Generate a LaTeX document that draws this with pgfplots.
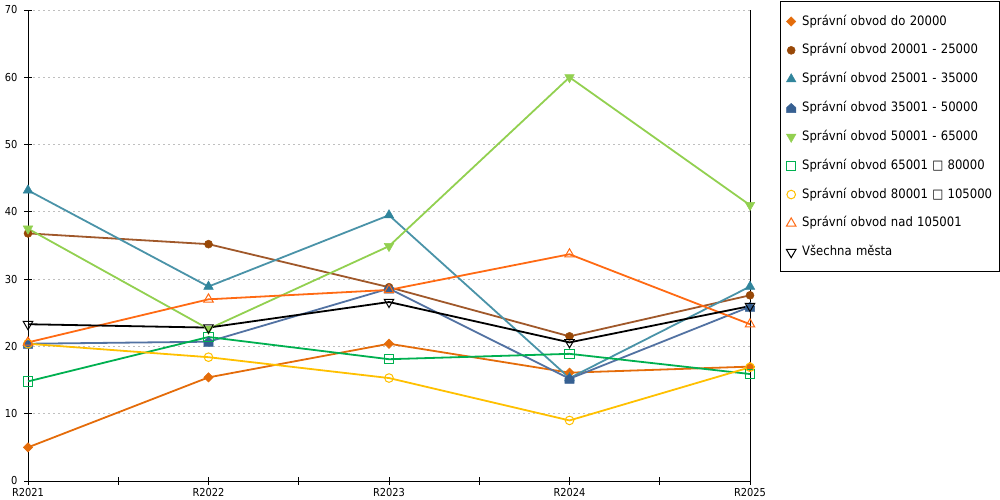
\documentclass[border=0pt]{standalone}
\usepackage{fontspec}
\setmainfont{DejaVu Sans Condensed}
\usepackage{pgfplots}
\pgfplotsset{compat=1.18}
\usetikzlibrary{plotmarks}
\definecolor{cA}{HTML}{E46C0A}
\definecolor{cB}{HTML}{984807}
\definecolor{cBl}{HTML}{A0582A}
\definecolor{cC}{HTML}{31859C}
\definecolor{cCl}{HTML}{4A93A8}
\definecolor{cD}{HTML}{366092}
\definecolor{cDl}{HTML}{5272A2}
\definecolor{cE}{HTML}{92D050}
\definecolor{cF}{HTML}{00B050}
\definecolor{cG}{HTML}{FFC000}
\definecolor{cH}{HTML}{FF6A13}
\definecolor{gridc}{HTML}{BFBFBF}
\pgfdeclareplotmark{house}{%
  \pgfpathmoveto{\pgfqpoint{0pt}{\pgfplotmarksize}}%
  \pgfpathlineto{\pgfqpoint{\pgfplotmarksize}{0.1\pgfplotmarksize}}%
  \pgfpathlineto{\pgfqpoint{\pgfplotmarksize}{-\pgfplotmarksize}}%
  \pgfpathlineto{\pgfqpoint{-\pgfplotmarksize}{-\pgfplotmarksize}}%
  \pgfpathlineto{\pgfqpoint{-\pgfplotmarksize}{0.1\pgfplotmarksize}}%
  \pgfpathclose\pgfusepathqfillstroke}
\begin{document}
\begin{tikzpicture}
\path (0,0) rectangle (1000bp,500bp);
\begin{axis}[
  at={(28bp,19bp)}, anchor=south west,
  scale only axis, width=722bp, height=471bp,
  xmin=0, xmax=4, ymin=0, ymax=70,
  clip=false,
  axis lines*=left,
  axis line style={black, line width=1bp},
  xtick={0,1,2,3,4},
  xticklabels={R2021,R2022,R2023,R2024,R2025},
  minor xtick={0.5,1.5,2.5,3.5},
  ytick={0,10,...,70},
  tick align=center,
  major tick length=7bp, minor tick length=7bp,
  tick style={black, line width=1bp},
  ymajorgrids,
  major grid style={gridc, line width=1bp, dash pattern=on 2bp off 3bp},
  /pgf/number format/assume math mode=true,
  xticklabel style={font=\fontsize{11}{13}\selectfont, inner sep=0pt, anchor=north, yshift=-4bp},
  yticklabel style={font=\fontsize{11}{13}\selectfont, inner sep=0pt, anchor=east, xshift=-7bp},
  legend cell align=left,
  legend image code/.code={\path[draw=none,fill=none] (-6bp,-6bp) rectangle (6bp,6bp);
     \draw[#1,only marks] plot coordinates {(0bp,0bp)};},
  legend style={at={(1.04155,1.01805)}, anchor=north west,
     draw=black, line width=1bp, inner xsep=4.7bp, inner ysep=13.5bp,
     row sep=16.84bp, column sep=5bp,
     font=\fontsize{13}{15}\selectfont,
     nodes={inner sep=0pt, text height=9.5bp, text depth=2.5bp, text width=193bp, align=left}},
  every axis plot/.append style={line width=1.8bp},
]
\addplot[cA, mark=square*, mark size=3.3bp, mark options={solid, rotate=45, line width=0.5bp, fill=cA}]
  coordinates {(0,5.0)(1,15.4)(2,20.4)(3,16.1)(4,17.0)};
\addlegendentry{Správní obvod do 20000}
\addplot[cBl, mark=*, mark size=4bp, mark options={solid, draw=cB, fill=cB, line width=0.5bp}]
  coordinates {(0,36.8)(1,35.2)(2,28.8)(3,21.5)(4,27.6)};
\addlegendentry{Správní obvod 20001 - 25000}
\addplot[cCl, mark=triangle*, mark size=5.5bp, mark options={solid, draw=cC, fill=cC, line width=0.5bp}]
  coordinates {(0,43.2)(1,28.9)(2,39.5)(3,15.3)(4,28.9)};
\addlegendentry{Správní obvod 25001 - 35000}
\addplot[cDl, mark=house, mark size=4.6bp, mark options={solid, draw=cD, fill=cD, line width=0.5bp}]
  coordinates {(0,20.4)(1,20.7)(2,28.6)(3,15.2)(4,25.9)};
\addlegendentry{Správní obvod 35001 - 50000}
\addplot[cE, mark=triangle*, mark size=5.5bp, mark options={solid, rotate=180, draw=cE, fill=cE, line width=0.5bp}]
  coordinates {(0,37.5)(1,22.6)(2,34.9)(3,60.0)(4,41.0)};
\addlegendentry{Správní obvod 50001 - 65000}
\addplot[cF, mark=square, mark size=4.6bp, mark options={solid, fill=white, line width=1bp}]
  coordinates {(0,14.8)(1,21.4)(2,18.1)(3,18.9)(4,15.9)};
\addlegendentry{Správní obvod 65001 □ 80000}
\addplot[cG, mark=o, mark size=4.3bp, mark options={solid, fill=white, line width=1bp}]
  coordinates {(0,20.4)(1,18.4)(2,15.3)(3,9.0)(4,16.9)};
\addlegendentry{Správní obvod 80001 □ 105000}
\addplot[cH, mark=triangle, mark size=5.5bp, mark options={solid, fill=white, line width=1bp}]
  coordinates {(0,20.6)(1,27.0)(2,28.4)(3,33.7)(4,23.3)};
\addlegendentry{Správní obvod nad 105001}
\addplot[black, mark=triangle, mark size=5.5bp, mark options={solid, rotate=180, fill=white, line width=1bp}]
  coordinates {(0,23.3)(1,22.8)(2,26.6)(3,20.6)(4,26.0)};
\addlegendentry{Všechna města}
\draw[black, line width=1bp] (rel axis cs:1,0) -- (rel axis cs:1,1);
\end{axis}
\pgfresetboundingbox
\path (0,0) rectangle (1000bp,500bp);
\end{tikzpicture}
\end{document}
